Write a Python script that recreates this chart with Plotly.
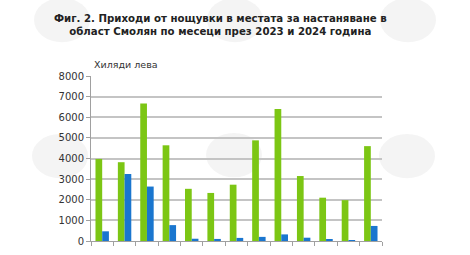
import plotly.graph_objects as go

months = ["I", "II", "III", "IV", "V", "VI", "VII", "VIII", "IX", "X", "XI", "XII", "XIII"]
series_a_name = "2023"
series_b_name = "2024"
series_a = [3980, 3820, 6670, 4640, 2530, 2330, 2730, 4880, 6400, 3150, 2100, 1980, 4600]
series_b = [470, 3250, 2640, 770, 110, 100, 150, 200, 320, 160, 90, 30, 730]
y_ticks = [0, 1000, 2000, 3000, 4000, 5000, 6000, 7000, 8000]

W, H = 470, 255
ML, MR, MT, MB = 91, 88, 76, 8
PW, PH = W - ML - MR, H - MT - MB

def px_x(px):
    return (px - ML) / PW

def px_y(py):
    return (H - MB - py) / PH

fig = go.Figure()
fig.add_trace(go.Bar(x=months, y=series_a, name=series_a_name, marker_color="#7cc614", marker_line_width=0))
fig.add_trace(go.Bar(x=months, y=series_b, name=series_b_name, marker_color="#1a76cf", marker_line_width=0))

shapes = []
annotations = []
for cx, cy in [(62, 18), (235, 18), (408, 18), (60, 159), (234, 158), (407, 159)]:
    shapes.append(dict(type="circle", xref="paper", yref="paper", layer="between",
                       x0=px_x(cx - 28), x1=px_x(cx + 28), y0=px_y(cy + 23), y1=px_y(cy - 23),
                       fillcolor="rgba(235,235,235,0.55)", line_width=0))

annotations.append(dict(
    text="<b>Фиг. 2. Приходи от нощувки в местата за настаняване в<br>област Смолян по месеци през 2023 и 2024 година</b>",
    xref="paper", yref="paper", x=px_x(220), y=px_y(23), xanchor="center", yanchor="middle",
    showarrow=False, align="center", font=dict(family="DejaVu Sans", size=10.2, color="#222222")))
annotations.append(dict(
    text="Хиляди лева", xref="paper", yref="paper", x=px_x(92), y=px_y(64),
    xanchor="left", yanchor="middle", showarrow=False,
    font=dict(family="DejaVu Sans", size=9.5, color="#333333")))

fig.update_layout(
    width=W, height=H,
    margin=dict(l=ML, r=MR, t=MT, b=MB),
    paper_bgcolor="white", plot_bgcolor="white",
    barmode="group", bargap=0.4, bargroupgap=0,
    showlegend=False,
    shapes=shapes, annotations=annotations,
    xaxis=dict(type="category", tickson="boundaries", ticks="outside", ticklen=4,
               tickcolor="#a0a0a0", showticklabels=False, showgrid=False,
               showline=True, linecolor="#a0a0a0", linewidth=1, zeroline=False),
    yaxis=dict(range=[0, 8000], tickvals=y_ticks, ticks="outside", ticklen=4, tickcolor="#a0a0a0",
               showgrid=True, gridcolor="#c4c4c4", gridwidth=1.5, showline=True, linecolor="#a0a0a0",
               zeroline=False, tickfont=dict(family="DejaVu Sans", size=10, color="#333333")),
)

fig.write_html("out.html")
